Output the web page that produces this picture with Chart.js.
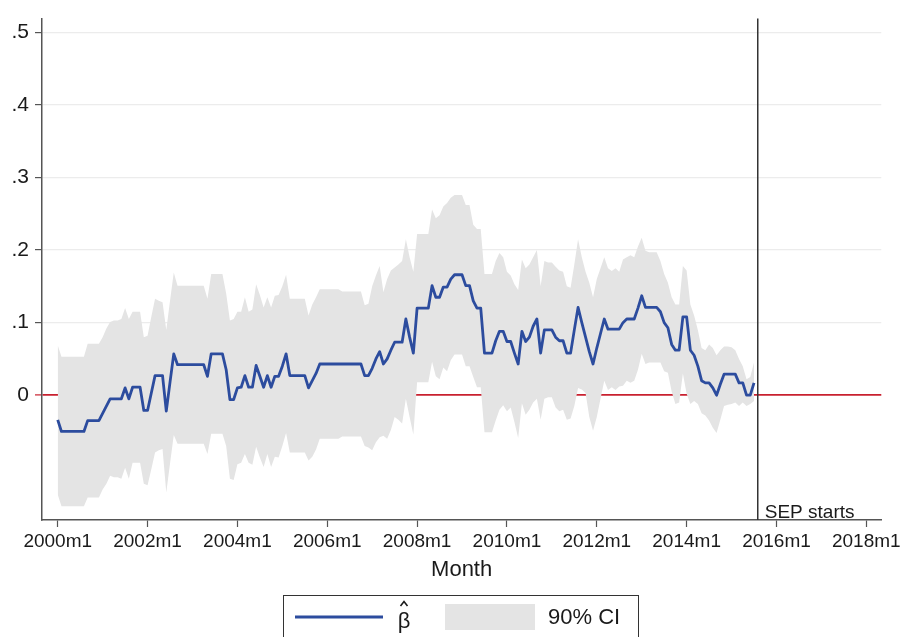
<!DOCTYPE html>
<html>
<head>
<meta charset="utf-8">
<script src="https://cdn.jsdelivr.net/npm/chart.js@4.4.1/dist/chart.umd.min.js"></script>
<style>
  html, body { margin: 0; padding: 0; background: #fff; }
  canvas { display: block; }
</style>
</head>
<body>
<canvas id="betaChart" width="904" height="637"></canvas>
<script>
// monthly estimates, 2000m1 .. 2015m7 (one row per year)
const beta = [
    -0.034, -0.05, -0.05, -0.05, -0.05, -0.05, -0.05, -0.05, -0.035, -0.035, -0.035, -0.035,
    -0.025, -0.015, -0.005, -0.005, -0.005, -0.005, 0.01, -0.005, 0.011, 0.011, 0.011, -0.021,
    -0.021, 0.003, 0.027, 0.027, 0.027, -0.022, 0.018, 0.057, 0.042, 0.042, 0.042, 0.042,
    0.042, 0.042, 0.042, 0.042, 0.026, 0.057, 0.057, 0.057, 0.057, 0.035, -0.006, -0.006,
    0.01, 0.011, 0.027, 0.011, 0.011, 0.041, 0.026, 0.011, 0.027, 0.011, 0.026, 0.026,
    0.04, 0.057, 0.027, 0.027, 0.027, 0.027, 0.027, 0.01, 0.02, 0.03, 0.043, 0.043,
    0.043, 0.043, 0.043, 0.043, 0.043, 0.043, 0.043, 0.043, 0.043, 0.043, 0.027, 0.027,
    0.037, 0.05, 0.06, 0.043, 0.05, 0.062, 0.073, 0.073, 0.073, 0.105, 0.08, 0.058,
    0.12, 0.12, 0.12, 0.12, 0.151, 0.135, 0.135, 0.149, 0.149, 0.16, 0.166, 0.166,
    0.166, 0.151, 0.151, 0.13, 0.12, 0.12, 0.058, 0.058, 0.058, 0.075, 0.088, 0.088,
    0.074, 0.074, 0.058, 0.043, 0.088, 0.074, 0.08, 0.095, 0.105, 0.058, 0.09, 0.09,
    0.09, 0.08, 0.075, 0.075, 0.058, 0.058, 0.09, 0.121, 0.1, 0.08, 0.06, 0.043,
    0.065, 0.085, 0.105, 0.091, 0.091, 0.091, 0.091, 0.1, 0.105, 0.105, 0.105, 0.12,
    0.137, 0.121, 0.121, 0.121, 0.121, 0.115, 0.1, 0.093, 0.07, 0.062, 0.062, 0.108,
    0.108, 0.062, 0.055, 0.04, 0.02, 0.017, 0.017, 0.01, 0.0, 0.015, 0.029, 0.029,
    0.029, 0.029, 0.017, 0.017, 0.0, 0.0, 0.017
];

const ciHigh = [
    0.069, 0.053, 0.053, 0.053, 0.053, 0.053, 0.053, 0.053, 0.071, 0.071, 0.071, 0.071,
    0.08, 0.092, 0.101, 0.103, 0.103, 0.105, 0.12, 0.105, 0.115, 0.115, 0.115, 0.08,
    0.082, 0.108, 0.133, 0.13, 0.128, 0.09, 0.13, 0.169, 0.151, 0.151, 0.151, 0.151,
    0.151, 0.151, 0.151, 0.151, 0.133, 0.167, 0.167, 0.167, 0.167, 0.14, 0.103, 0.105,
    0.115, 0.115, 0.135, 0.115, 0.118, 0.153, 0.138, 0.121, 0.135, 0.121, 0.137, 0.138,
    0.15, 0.166, 0.133, 0.133, 0.133, 0.133, 0.133, 0.11, 0.125, 0.135, 0.146, 0.146,
    0.146, 0.146, 0.146, 0.146, 0.143, 0.143, 0.143, 0.143, 0.143, 0.143, 0.124, 0.126,
    0.15, 0.165, 0.178, 0.142, 0.16, 0.172, 0.176, 0.18, 0.185, 0.215, 0.19, 0.17,
    0.222, 0.222, 0.222, 0.222, 0.256, 0.244, 0.248, 0.26, 0.265, 0.272, 0.276, 0.276,
    0.276, 0.262, 0.262, 0.235, 0.229, 0.229, 0.167, 0.167, 0.167, 0.185, 0.196, 0.19,
    0.17, 0.165, 0.153, 0.145, 0.187, 0.175, 0.18, 0.19, 0.2, 0.15, 0.185, 0.183,
    0.183, 0.177, 0.172, 0.17, 0.15, 0.148, 0.18, 0.215, 0.19, 0.17, 0.155, 0.135,
    0.16, 0.175, 0.19, 0.175, 0.171, 0.175, 0.17, 0.187, 0.19, 0.193, 0.19, 0.205,
    0.217, 0.199, 0.197, 0.197, 0.197, 0.185, 0.167, 0.155, 0.135, 0.125, 0.125, 0.178,
    0.172, 0.125, 0.11, 0.09, 0.065, 0.062, 0.07, 0.065, 0.055, 0.062, 0.067, 0.067,
    0.066, 0.062, 0.05, 0.04, 0.022, 0.025, 0.045
];

const ciLow = [
    -0.137, -0.153, -0.153, -0.153, -0.153, -0.153, -0.153, -0.153, -0.141, -0.141, -0.141, -0.141,
    -0.13, -0.122, -0.111, -0.113, -0.113, -0.115, -0.1, -0.115, -0.093, -0.093, -0.093, -0.122,
    -0.124, -0.102, -0.079, -0.076, -0.074, -0.134, -0.094, -0.055, -0.067, -0.067, -0.067, -0.067,
    -0.067, -0.067, -0.067, -0.067, -0.081, -0.053, -0.053, -0.053, -0.053, -0.07, -0.115, -0.117,
    -0.095, -0.093, -0.081, -0.093, -0.096, -0.071, -0.086, -0.099, -0.081, -0.099, -0.085, -0.086,
    -0.07, -0.052, -0.079, -0.079, -0.079, -0.079, -0.079, -0.09, -0.085, -0.075, -0.06, -0.06,
    -0.06, -0.06, -0.06, -0.06, -0.057, -0.057, -0.057, -0.057, -0.057, -0.057, -0.07, -0.072,
    -0.076, -0.065, -0.058, -0.056, -0.06, -0.048, -0.03, -0.034, -0.039, -0.005, -0.03, -0.054,
    0.018, 0.018, 0.018, 0.018, 0.046, 0.026, 0.022, 0.038, 0.033, 0.048, 0.056, 0.056,
    0.056, 0.04, 0.04, 0.025, 0.011, 0.011, -0.051, -0.051, -0.051, -0.035, -0.02, -0.014,
    -0.022, -0.017, -0.037, -0.059, -0.011, -0.027, -0.02, -0.01, -0.005, -0.034, -0.005, -0.003,
    -0.003, -0.017, -0.022, -0.02, -0.034, -0.032, -0.015, 0.01, 0.008, 0.003, -0.03, -0.049,
    -0.03, -0.005, 0.02, 0.007, 0.011, 0.007, 0.012, 0.013, 0.02, 0.017, 0.02, 0.035,
    0.057, 0.043, 0.045, 0.045, 0.045, 0.045, 0.033, 0.031, 0.005, -0.012, -0.01, 0.03,
    0.002, -0.012, -0.008, -0.012, -0.025, -0.028, -0.035, -0.045, -0.052, -0.034, -0.015, -0.013,
    -0.012, -0.01, -0.015, -0.01, -0.015, -0.012, -0.008
];

const xTickLabels = ['2000m1', '2002m1', '2004m1', '2006m1', '2008m1',
                     '2010m1', '2012m1', '2014m1', '2016m1', '2018m1'];
const yTickValues = [0, 0.1, 0.2, 0.3, 0.4, 0.5];
const yTickLabels = ['0', '.1', '.2', '.3', '.4', '.5'];

const sepStart = '2015m8';
const sepLabel = 'SEP starts';
const xTitle = 'Month';
const legendLabels = ['\u03B2', '90% CI'];

// months counted from 2000m1
const baseYear = 2000;
function monthIndex(label) {
    const [y, m] = label.split('m').map(Number);
    return (y - baseYear) * 12 + (m - 1);
}
const toPoints = arr => arr.map((v, i) => ({ x: i, y: v }));

const BLUE = '#2c4c9e';
const BAND = '#e4e4e4';
const RED = '#c8202f';
const AXIS = '#555555';
const TEXT = '#1a1a1a';
const FONT = "'Liberation Sans', Arial, Helvetica, sans-serif";

const sepLinePlugin = {
    id: 'sepLine',
    afterDatasetsDraw(chart) {
        const { ctx, chartArea, scales } = chart;
        const x = scales.x.getPixelForValue(monthIndex(sepStart));
        ctx.save();
        ctx.strokeStyle = '#333';
        ctx.lineWidth = 1.5;
        ctx.beginPath();
        ctx.moveTo(x, chartArea.top);
        ctx.lineTo(x, chartArea.bottom);
        ctx.stroke();
        ctx.fillStyle = TEXT;
        ctx.font = '19px ' + FONT;
        ctx.textAlign = 'left';
        ctx.textBaseline = 'alphabetic';
        ctx.fillText(sepLabel, x + 7, chartArea.bottom - 2);
        ctx.restore();
    }
};

const boxLegendPlugin = {
    id: 'boxLegend',
    afterDraw(chart) {
        const { ctx } = chart;
        const line = chart.data.datasets[0];
        const band = chart.data.datasets[1];
        ctx.save();
        ctx.strokeStyle = '#333';
        ctx.lineWidth = 1;
        ctx.strokeRect(283.5, 595.5, 355, 60);

        ctx.strokeStyle = line.borderColor;
        ctx.lineWidth = 3;
        ctx.beginPath();
        ctx.moveTo(295, 617);
        ctx.lineTo(383, 617);
        ctx.stroke();

        ctx.fillStyle = band.backgroundColor;
        ctx.fillRect(445, 604, 90, 26);

        ctx.fillStyle = TEXT;
        ctx.font = '22px ' + FONT;
        ctx.textBaseline = 'middle';
        ctx.textAlign = 'center';
        ctx.fillText(legendLabels[0], 404, 622);
        // hat over the beta
        ctx.strokeStyle = TEXT;
        ctx.lineWidth = 1.6;
        ctx.beginPath();
        ctx.moveTo(400.5, 606);
        ctx.lineTo(404, 601.5);
        ctx.lineTo(407.5, 606);
        ctx.stroke();
        ctx.textAlign = 'left';
        ctx.fillText(legendLabels[1], 548, 618);
        ctx.restore();
    }
};

new Chart(document.getElementById('betaChart'), {
    type: 'line',
    data: {
        datasets: [
            {
                label: 'beta hat',
                data: toPoints(beta),
                borderColor: BLUE,
                borderWidth: 2.8,
                borderJoinStyle: 'round',
                pointRadius: 0,
                fill: false,
                tension: 0
            },
            {
                label: legendLabels[1],
                data: toPoints(ciHigh),
                borderWidth: 0,
                borderColor: 'rgba(0,0,0,0)',
                backgroundColor: BAND,
                pointRadius: 0,
                fill: '+1',
                tension: 0
            },
            {
                label: 'ci low',
                data: toPoints(ciLow),
                borderWidth: 0,
                borderColor: 'rgba(0,0,0,0)',
                pointRadius: 0,
                fill: false,
                tension: 0
            }
        ]
    },
    options: {
        responsive: false,
        animation: false,
        layout: {
            padding: { top: 14, right: 20, left: 0, bottom: 0 }
        },
        plugins: {
            legend: { display: false },
            tooltip: { enabled: false }
        },
        scales: {
            x: {
                type: 'linear',
                min: -4.2,
                max: 220,
                afterFit(scale) { scale.height = 117; },
                afterBuildTicks(scale) {
                    scale.ticks = xTickLabels.map(l => ({ value: monthIndex(l) }));
                },
                border: { display: true, color: AXIS, width: 1.5 },
                grid: {
                    drawOnChartArea: false,
                    drawTicks: true,
                    tickLength: 7,
                    tickColor: AXIS,
                    tickWidth: 1.2
                },
                ticks: {
                    autoSkip: false,
                    maxRotation: 0,
                    padding: 3,
                    color: TEXT,
                    font: { family: FONT, size: 19 },
                    callback: (value, index) => xTickLabels[index]
                },
                title: {
                    display: true,
                    text: xTitle,
                    color: TEXT,
                    font: { family: FONT, size: 22 },
                    padding: { top: 0, bottom: 54 }
                }
            },
            y: {
                type: 'linear',
                min: -0.172,
                max: 0.519,
                afterFit(scale) { scale.width = 42; },
                afterBuildTicks(scale) {
                    scale.ticks = yTickValues.map(v => ({ value: v }));
                },
                border: { display: true, color: AXIS, width: 1.5 },
                grid: {
                    color: ctx => (ctx.tick && ctx.tick.value === 0) ? RED : '#ececec',
                    lineWidth: ctx => (ctx.tick && ctx.tick.value === 0) ? 1.8 : 1.2,
                    tickColor: ctx => (ctx.tick && ctx.tick.value === 0) ? RED : AXIS,
                    tickLength: 7,
                    tickWidth: 1.2
                },
                ticks: {
                    padding: 6,
                    color: TEXT,
                    font: { family: FONT, size: 21 },
                    callback: (value, index) => yTickLabels[index]
                }
            }
        }
    },
    plugins: [sepLinePlugin, boxLegendPlugin]
});
</script>
</body>
</html>
